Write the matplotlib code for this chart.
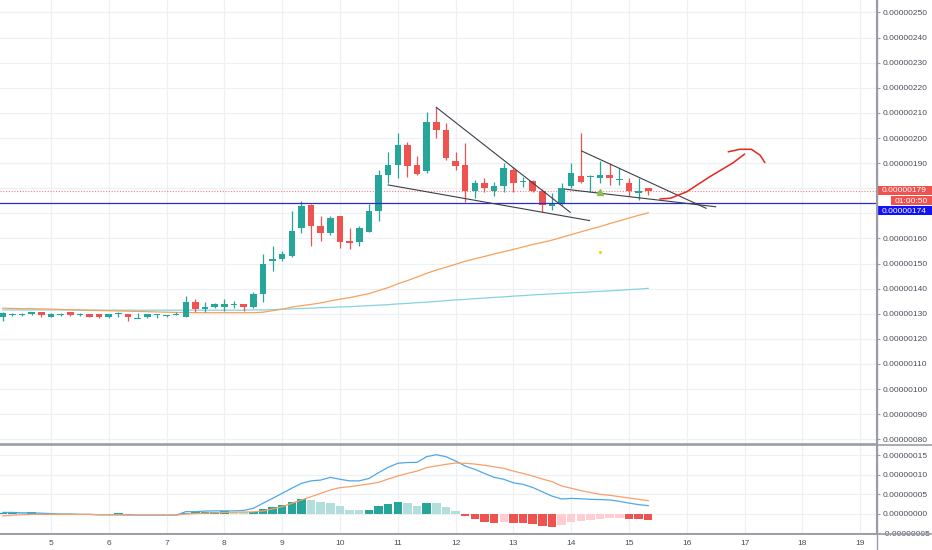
import numpy as np
import matplotlib
matplotlib.use("Agg")
import matplotlib.pyplot as plt
from matplotlib import transforms
from matplotlib.lines import Line2D
from matplotlib.patches import Rectangle

# prices in units of 1e-8, one 4h candle per entry (day 4 04:00 .. day 15 08:00)
opens = [128.8, 129.8, 129.8, 129.8, 130.6, 128.8, 129.8, 130.6, 129.8, 129.8,
         129.8, 128.6, 130.1, 129.8, 128.2, 128.6, 129.8, 129.1, 129.8, 128.8,
         134.8, 131.9, 132.8, 132.8, 133.7, 133.7, 132.5, 137.9, 151.0, 151.7,
         153.0, 164.0, 173.3, 164.9, 162.0, 168.9, 159.0, 158.7, 162.7, 170.9,
         185.2, 189.2, 197.2, 189.2, 186.8, 206.2, 203.2, 191.0, 189.2, 178.9,
         181.9, 178.9, 181.0, 187.3, 182.8, 182.8, 178.9, 173.0, 173.9, 180.9,
         185.0, 184.6, 184.2, 185.2, 183.3, 181.9, 178.2, 179.9]
highs = [130.8, 130.4, 130.4, 130.8, 130.8, 130.1, 130.4, 130.8, 130.4, 129.9,
         129.9, 130.0, 130.8, 129.9, 130.1, 130.0, 129.9, 129.6, 130.6, 137.1,
         135.9, 134.8, 134.3, 135.7, 135.2, 133.9, 138.8, 153.8, 157.0, 155.0,
         171.1, 174.9, 173.7, 168.9, 168.9, 169.0, 164.0, 164.9, 173.7, 187.2,
         194.3, 201.9, 198.5, 192.8, 210.2, 212.5, 205.8, 194.3, 197.9, 183.3,
         183.9, 182.6, 189.9, 188.6, 184.6, 183.3, 179.7, 178.0, 181.9, 189.9,
         201.9, 185.3, 190.8, 189.9, 187.9, 183.9, 183.9, 179.9]
lows = [127.2, 129.2, 129.2, 129.4, 128.8, 128.5, 129.2, 129.0, 129.2, 128.6,
        128.4, 128.4, 128.6, 127.1, 128.1, 128.4, 128.2, 128.6, 129.4, 128.6,
        130.8, 130.8, 132.3, 131.1, 132.2, 131.1, 132.1, 134.8, 147.2, 151.1,
        152.7, 162.3, 157.1, 159.0, 161.4, 156.0, 155.8, 157.1, 162.7, 166.9,
        181.9, 184.2, 184.6, 185.2, 185.9, 200.1, 191.2, 187.2, 174.4, 176.0,
        178.4, 177.0, 178.6, 178.6, 180.6, 178.6, 170.4, 171.3, 173.3, 180.2,
        182.2, 178.6, 182.0, 181.3, 181.3, 177.0, 175.3, 177.3]
closes = [130.1, 129.8, 129.8, 130.6, 129.5, 129.9, 129.8, 129.5, 129.8, 128.8,
          128.6, 129.8, 130.1, 128.6, 128.2, 129.8, 129.8, 129.1, 129.8, 134.8,
          131.9, 132.8, 133.7, 133.7, 133.7, 132.5, 137.7, 149.7, 151.8, 153.8,
          163.0, 173.0, 164.9, 162.0, 168.0, 158.7, 158.0, 164.0, 171.1, 185.2,
          189.2, 197.2, 189.0, 185.8, 206.2, 203.2, 192.2, 189.0, 178.9, 181.9,
          179.9, 181.0, 188.2, 181.9, 182.8, 178.9, 173.3, 173.9, 179.9, 185.9,
          182.6, 184.6, 185.2, 183.9, 183.3, 178.9, 178.9, 179.0]

ma_fast = [132.2, 132.1, 132.0, 132.0, 131.9, 131.8, 131.7, 131.6, 131.5, 131.4,
           131.3, 131.2, 131.1, 131.0, 130.9, 130.8, 130.7, 130.6, 130.5, 130.5,
           130.4, 130.4, 130.4, 130.4, 130.4, 130.4, 130.4, 130.6, 131.2, 131.8,
           132.6, 133.2, 133.7, 134.3, 135.1, 135.8, 136.4, 137.2, 138.0, 139.2,
           140.4, 141.9, 143.2, 144.6, 146.1, 147.4, 148.5, 149.7, 150.9, 151.9,
           152.8, 153.8, 154.7, 155.6, 156.6, 157.6, 158.4, 159.3, 160.4, 161.5,
           162.6, 163.7, 164.7, 165.9, 167.0, 168.1, 169.2, 170.2]
ma_slow = [131.5, 131.5, 131.5, 131.5, 131.5, 131.5, 131.5, 131.5, 131.4, 131.4,
           131.4, 131.4, 131.4, 131.4, 131.4, 131.4, 131.4, 131.4, 131.4, 131.4,
           131.4, 131.4, 131.4, 131.4, 131.4, 131.4, 131.5, 131.5, 131.6, 131.8,
           131.9, 132.1, 132.2, 132.4, 132.5, 132.7, 132.8, 133.0, 133.2, 133.4,
           133.6, 133.9, 134.1, 134.4, 134.6, 134.9, 135.2, 135.5, 135.7, 136.0,
           136.2, 136.5, 136.7, 137.0, 137.2, 137.5, 137.7, 137.9, 138.1, 138.3,
           138.5, 138.7, 138.9, 139.1, 139.3, 139.6, 139.8, 140.1]

macd = [0.4, 0.4, 0.3, 0.3, 0.2, 0.1, 0.0, 0.0, -0.1, -0.1,
        -0.2, -0.2, -0.2, -0.2, -0.3, -0.3, -0.3, -0.3, -0.3, 0.6,
        0.6, 0.75, 0.8, 0.8, 0.8, 0.9, 1.45, 2.74, 4.0, 5.3,
        6.6, 7.86, 8.5, 8.7, 9.4, 8.9, 8.5, 8.5, 9.1, 10.6,
        11.96, 13.0, 13.2, 13.25, 14.7, 15.2, 14.7, 13.6, 12.3, 11.45,
        10.4, 9.4, 8.9, 8.0, 7.6, 6.8, 5.7, 4.6, 3.85, 4.0,
        3.9, 3.76, 3.7, 3.6, 3.25, 2.8, 2.4, 2.14]
signal = [-0.5, -0.3, -0.2, -0.1, -0.1, -0.1, -0.1, -0.1, -0.1, -0.1,
          -0.2, -0.2, -0.2, -0.3, -0.3, -0.3, -0.3, -0.3, -0.3, 0.0,
          0.1, 0.2, 0.3, 0.4, 0.45, 0.5, 0.55, 0.77, 1.28, 1.88,
          2.74, 3.59, 4.44, 5.3, 6.15, 6.75, 7.0, 7.35, 7.7, 8.1,
          8.97, 9.74, 10.4, 11.0, 11.9, 12.3, 12.73, 13.08, 13.0, 12.8,
          12.5, 12.1, 11.7, 11.0, 10.4, 9.74, 8.97, 8.3, 7.2, 6.6,
          6.0, 5.5, 5.04, 4.8, 4.44, 4.1, 3.76, 3.4]
hist = [0.3, 0.3, 0.25, 0.4, 0.2, 0.1, 0.05, 0.05, 0.05, 0.05,
        0.05, 0.1, 0.3, 0.1, 0.05, -0.05, -0.05, 0.05, 0.1, 0.35,
        0.4, 0.5, 0.6, 0.65, 0.5, 0.45, 0.6, 1.28, 1.88, 2.31,
        2.99, 3.85, 3.59, 3.08, 2.82, 2.05, 1.11, 0.94, 1.11, 1.97,
        2.56, 3.16, 2.82, 2.05, 2.9, 2.7, 1.88, 0.85, -0.4, -1.4,
        -1.97, -2.4, -2.0, -2.22, -2.4, -2.56, -3.08, -3.25, -2.82, -2.05,
        -1.71, -1.54, -1.2, -1.03, -0.9, -1.37, -1.4, -1.6]

day_labels = [str(d) for d in range(5, 20)]
day_pos = [6 * d - 24 for d in range(5, 20)]

# drawn trend lines: (candle index, price)
wedge1_upper = ([46.0, 59.9], [212.2, 170.4])
wedge1_lower = ([41.0, 61.9], [181.3, 167.1])
wedge2_upper = ([61.1, 74.0], [194.8, 172.0])
wedge2_lower = ([59.4, 75.0], [179.6, 172.6])
arrow_stroke = ([69.2, 70.3, 72.0, 74.4, 76.8, 78.0], [175.7, 176.0, 178.6, 184.6, 190.1, 193.6])
arrow_head = ([76.3, 77.5, 78.7, 79.6, 80.1], [194.5, 195.5, 195.5, 193.2, 190.2])
hline_price = 174.0
last_price = 179.0
countdown = '01:00:50'

GREEN = '#26a69a'
RED = '#ef5350'
GRID = '#eef0f4'
AXC = '#9a9da5'
TXT = '#4a4e59'

plt.rcParams['font.family'] = ['Liberation Sans', 'DejaVu Sans']
fig = plt.figure(figsize=(9.32, 5.5), dpi=100)
W, H = 932, 550
ax = fig.add_axes([0, 1 - 444 / H, 876 / W, 444 / H])
axm = fig.add_axes([0, 1 - 534 / H, 876 / W, 89 / H], sharex=ax)

k = np.arange(1, len(opens) + 1)
o = np.array(opens); c = np.array(closes); hi = np.array(highs); lo = np.array(lows)
up = c >= o
cols = np.where(up, GREEN, RED)

for a in (ax, axm):
    for d in day_pos:
        a.axvline(d, color=GRID, lw=0.9, zorder=0)

for v in range(80, 260, 10):
    ax.axhline(v, color=GRID, lw=0.9, zorder=0)
for v in (-5, 0, 5, 10, 15):
    axm.axhline(v, color=GRID, lw=0.9, zorder=0)

# moving averages
ax.plot(k, ma_slow, color='#86d3df', lw=0.9, zorder=2)
ax.plot(k, ma_fast, color='#f5a25d', lw=0.9, zorder=2)

# candles
ax.vlines(k, lo, hi, colors=cols, lw=0.9, zorder=3)
body = np.maximum(np.abs(c - o), 0.4)
bottom = np.where(np.abs(c - o) < 0.4, o - 0.2, np.minimum(o, c))
ax.bar(k, body, bottom=bottom, width=0.68, color=cols, zorder=4)

# horizontal lines
ax.axhline(hline_price, color='#2b2bd0', lw=0.9, zorder=5)
ax.axhline(last_price, color=RED, lw=0.8, ls=(0, (1, 1.5)), alpha=0.75, zorder=1)

# trend lines
for xs, ys in (wedge1_upper, wedge1_lower, wedge2_upper, wedge2_lower):
    ax.plot(xs, ys, color='#3c3f48', lw=0.8, zorder=6)
for xs, ys in (arrow_stroke, arrow_head):
    ax.plot(xs, ys, color='#e8261c', lw=1.1, zorder=6, solid_capstyle='round')

ax.plot([63], [178.4], marker='^', ms=5, color='#8bc34a', zorder=7)
ax.plot([63], [154.5], marker='o', ms=1.3, color='#f2d41e', zorder=7)

ax.set_ylim(78.09, 254.98)
ax.set_xlim(0.71, 91.64)

# MACD pane
hist = np.array(hist)
prev = np.concatenate([[hist[0]], hist[:-1]])
hcols = []
for h, p in zip(hist, prev):
    if h >= 0:
        hcols.append('#26a69a' if h >= p else '#b2dfdb')
    else:
        hcols.append('#ffcdd2' if h > p else '#ef5350')
axm.bar(k, hist, width=0.88, color=hcols, zorder=2)
axm.plot(k, macd, color='#4ea8e8', lw=0.9, zorder=3)
axm.plot(k, signal, color='#f7a068', lw=0.9, zorder=3)
axm.set_ylim(-5.13, 17.69)

# axes styling
for a in (ax, axm):
    for s in ('left', 'top'):
        a.spines[s].set_visible(False)
    a.spines['right'].set_color(AXC)
    a.spines['bottom'].set_color(AXC)
    a.spines['bottom'].set_linewidth(1.2)
    a.yaxis.tick_right()
    a.tick_params(axis='y', colors=AXC, labelcolor=TXT, labelsize=6, length=3, width=0.8, pad=2)
    a.set_facecolor('white')

main_ticks = list(range(80, 260, 10))
ax.set_yticks(main_ticks)
# 170 and 180 sit under the price labels
ax.set_yticklabels(['' if v in (170, 180) else f'{v * 1e-8:.8f}' for v in main_ticks])
ax.tick_params(axis='x', bottom=False, labelbottom=False)
macd_ticks = [-5, 0, 5, 10, 15]
axm.set_yticks(macd_ticks)
axm.set_yticklabels([f'{v * 1e-8:.8f}' for v in macd_ticks])
axm.set_xticks(day_pos)
axm.set_xticklabels(day_labels)
axm.tick_params(axis='x', colors=AXC, labelcolor=TXT, labelsize=6, length=0, pad=4)

# full width separators and price axis line
fig.add_artist(Line2D([0, 1], [1 - 444.5 / H, 1 - 444.5 / H], color=AXC, lw=1.2, transform=fig.transFigure))
fig.add_artist(Line2D([0, 1], [1 - 534 / H, 1 - 534 / H], color=AXC, lw=1.2, transform=fig.transFigure))
fig.add_artist(Line2D([876.5 / W, 876.5 / W], [0, 1], color=AXC, lw=1.0, transform=fig.transFigure))

# price labels on the axis
tr = transforms.blended_transform_factory(ax.transAxes, ax.transData)
xr = W / 876
boxes = [
    (1.001, last_price, f'{last_price * 1e-8:.8f}', RED),
    (891 / 876, last_price - 4.0, countdown, RED),
    (1.001, last_price - 8.0, f'{hline_price * 1e-8:.8f}', '#1212f5'),
]
for x0, yc, label, fc in boxes:
    ax.add_patch(Rectangle((x0, yc - 1.85), xr - x0, 3.7, transform=tr, fc=fc, ec='none',
                           clip_on=False, zorder=10))
    ax.text((x0 + xr) / 2, yc - 0.1, label, transform=tr, ha='center', va='center',
            fontsize=6, color='white', clip_on=False, zorder=11)

fig.savefig('out.png', dpi=100, facecolor='white')
